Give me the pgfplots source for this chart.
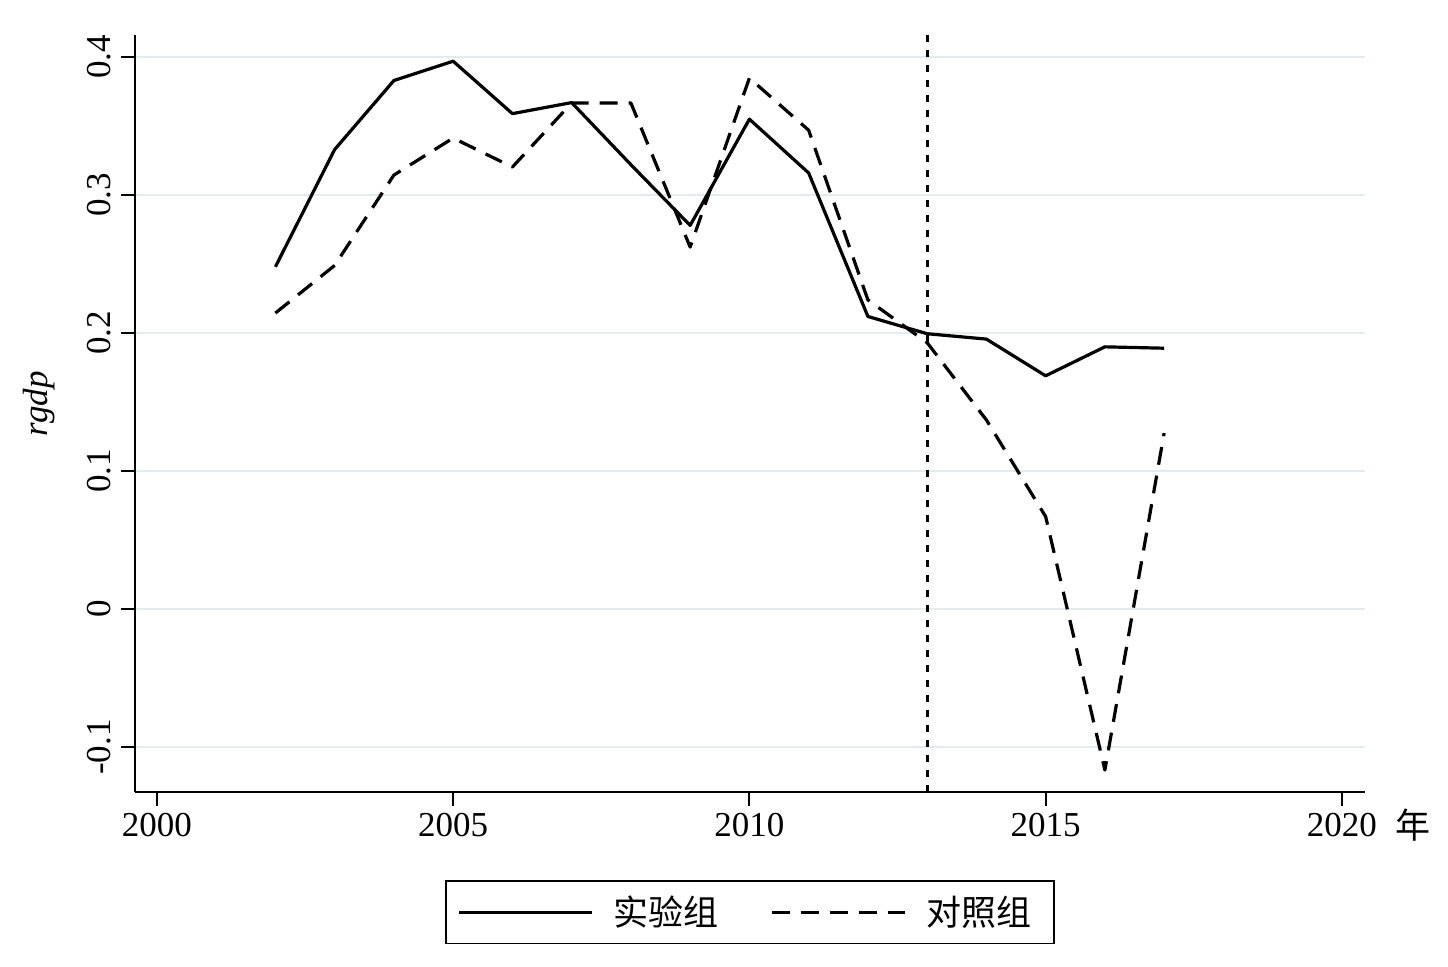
\documentclass[border=0pt]{standalone}
\usepackage{fontspec}
\setmainfont{Liberation Serif}
\newfontfamily\cjk{Noto Sans CJK SC}
\usepackage{pgfplots}
\pgfplotsset{compat=1.18}

\definecolor{gridc}{RGB}{226,236,237}

\begin{document}
\begin{tikzpicture}
	% page = whole reference canvas, axis box at origin
	\useasboundingbox (-67.5pt,-87.5pt) rectangle (656.5pt,396pt);
	\begin{axis}[
		at={(0,0)}, anchor=south west,
		scale only axis,
		width=615pt, height=378.5pt,
		xmin=1999.63, xmax=2020.39,
		ymin=-0.1326, ymax=0.416,
		axis lines*=left,
		axis line style={line width=1pt},
		xtick={2000,2005,...,2020},
		ytick={-0.1,0,0.1,0.2,0.3,0.4},
		tick align=outside,
		major tick length=7pt,
		tick style={black, line width=1pt},
		ymajorgrids=true,
		grid style={gridc, line width=1.3pt},
		font=\fontsize{17.5}{21}\selectfont,
		/pgf/number format/assume math mode=true,
		/pgf/number format/1000 sep={},
		yticklabel style={rotate=90, anchor=south, inner ysep=5pt},
		ylabel={\itshape rgdp},
		ylabel style={at={(axis description cs:-0.078,0.513)}, anchor=center},
		xlabel={\cjk 年},
		xlabel style={at={(axis description cs:1.039,-0.0436)}, anchor=center},
		legend columns=2,
		legend style={
			at={(axis description cs:0.5,-0.1163)}, anchor=north,
			draw=black, line width=0.8pt,
			inner xsep=6pt, inner ysep=2pt,
			nodes={inner sep=5.5pt},
			/tikz/column 1/.style={column sep=4.5pt},
			/tikz/column 2/.style={column sep=20pt},
			/tikz/column 3/.style={column sep=4.5pt},
		},
		legend image code/.code={\draw[#1] (0pt,0pt) -- (66.5pt,0pt);},
	]

	\addplot[black, line width=1.6pt, line join=round]
	coordinates {
		(2002,0.248)(2003,0.333)(2004,0.383)(2005,0.397)(2006,0.359)(2007,0.367)
		(2008,0.322)(2009,0.278)(2010,0.355)(2011,0.316)(2012,0.212)(2013,0.1995)
		(2014,0.1956)(2015,0.169)(2016,0.190)(2017,0.189)
	}; \addlegendentry{\cjk 实验组}

	\addplot[black, line width=1.6pt, line join=round, dash pattern=on 9pt off 5.5pt]
	coordinates {
		(2002,0.2145)(2003,0.249)(2004,0.3145)(2005,0.3413)(2006,0.3203)(2007,0.3667)
		(2008,0.3667)(2009,0.2623)(2010,0.3848)(2011,0.347)(2012,0.224)(2013,0.193)
		(2014,0.137)(2015,0.067)(2016,-0.1167)(2017,0.1275)
	}; \addlegendentry{\cjk 对照组}

	% treatment year
	\draw[black, line width=1.5pt, dash pattern=on 3.5pt off 4pt]
		({axis cs:2013,0}|-{rel axis cs:0,0}) -- ({axis cs:2013,0}|-{rel axis cs:0,1});

	\end{axis}
\end{tikzpicture}
\end{document}
